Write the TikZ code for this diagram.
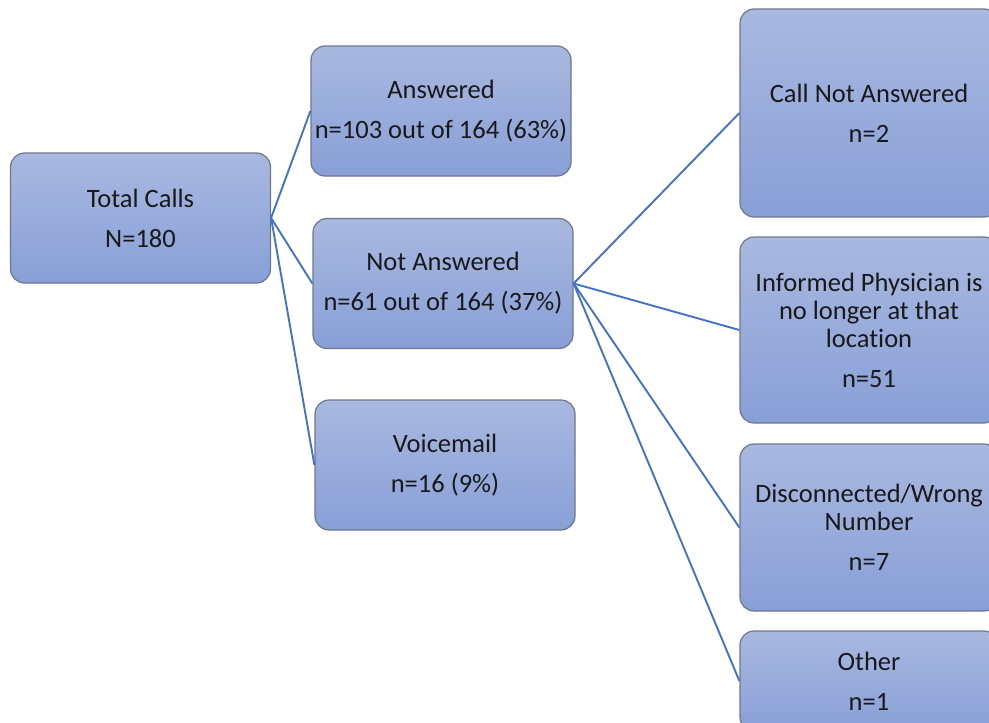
\documentclass[tikz,border=0pt]{standalone}
\usepackage{fontspec}
\setmainfont{Carlito}[Ligatures=NoCommon]
\usetikzlibrary{positioning}
\definecolor{boxtop}{RGB}{169,184,224}
\definecolor{boxbot}{RGB}{136,159,215}
\definecolor{boxedge}{RGB}{110,118,138}
\definecolor{linkblue}{RGB}{68,114,196}
\tikzset{
    box/.style={
        draw=boxedge,
        line width=1.2pt,
        rounded corners=14pt,
        top color=boxtop,
        bottom color=boxbot,
        align=center,
        minimum width=260pt,
        minimum height=130pt,
        inner sep=2pt,
        text=black!90,
        font=\fontsize{26.5}{28}\selectfont
    },
    sidebox/.style={box, minimum width=258pt},
    link/.style={draw=linkblue, line width=1.9pt}
}

\begin{document}
\begin{tikzpicture}[x=1pt, y=-1pt]
        \useasboundingbox (0,0) rectangle (989,723);
        \clip (0,0) rectangle (989,723);
        \node[box] (total) at (140.5,218) {Total Calls\\[12pt]N=180};
        \node[box] (ans) at (441,111) {Answered\\[12pt]n=103 out of 164 (63\%)};
        \node[box] (notans) at (443,283.5) {Not Answered\\[12pt]n=61 out of 164 (37\%)};
        \node[box] (voice) at (445,465) {Voicemail\\[12pt]n=16 (9\%)};

        \node[sidebox, minimum height=208pt] (callno) at (869,113) {Call Not Answered\\[12pt]n=2};
        \node[sidebox, minimum height=186pt] (moved) at (869,330) {Informed Physician is\\no longer at that\\location\\[12pt]n=51};
        \node[sidebox, minimum height=167pt] (wrong) at (869,527.5) {Disconnected/Wrong\\Number\\[12pt]n=7};
        \node[sidebox, minimum height=100pt] (other) at (869,681) {Other\\[12pt]n=1};

        \draw[link] (total.east) -- (ans.west);
        \draw[link] (total.east) -- (notans.west);
        \draw[link] (total.east) -- (voice.west);
        \draw[link] (notans.east) -- (callno.west);
        \draw[link] (notans.east) -- (moved.west);
        \draw[link] (notans.east) -- (wrong.west);
        \draw[link] (notans.east) -- (other.west);
    \end{tikzpicture}
\end{document}
